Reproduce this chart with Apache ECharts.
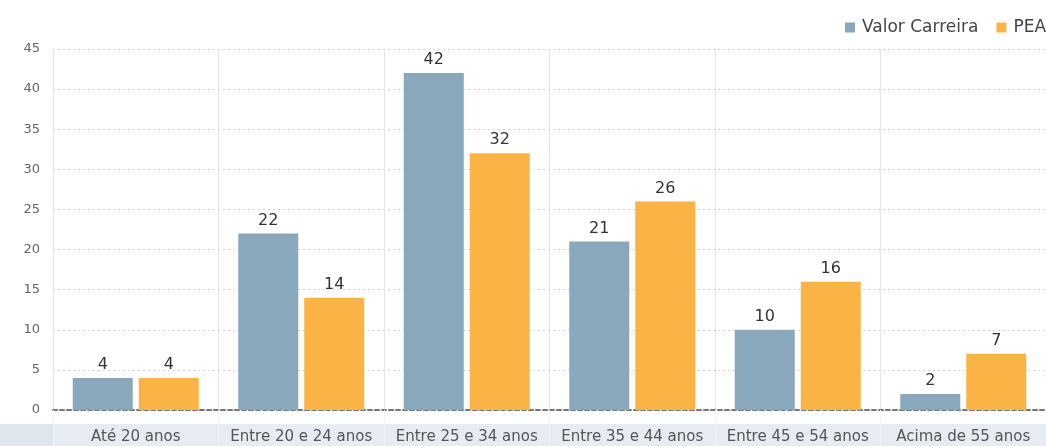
<!DOCTYPE html>
<html><head><meta charset="utf-8">
<script src="https://cdn.jsdelivr.net/npm/echarts@6/dist/echarts.min.js"></script>
<style>html,body{margin:0;padding:0;background:#fff}#c{width:1046px;height:446px}</style>
</head><body><div id="c"></div>
<script>
const categories = ['Até 20 anos','Entre 20 e 24 anos','Entre 25 e 34 anos','Entre 35 e 44 anos','Entre 45 e 54 anos','Acima de 55 anos'];
const seriesNames = ['Valor Carreira','PEA'];
const valorCarreira = [4,22,42,21,10,2];
const pea = [4,14,32,26,16,7];
const yTicks = {min:0,max:45,interval:5};

const chart = echarts.init(document.getElementById('c'));
const font = 'DejaVu Sans';
chart.setOption({
  animation:false,
  textStyle:{fontFamily:font},
  color:['#89a8bc','#f9b445'],
  legend:{
    left:840, top:14, width:400, itemWidth:10, itemHeight:10, itemGap:18, icon:'rect',
    textStyle:{fontFamily:font,fontSize:17,color:'#444',padding:[0,0,0,2]},
    data:seriesNames
  },
  graphic:[{type:'rect',z:-10,shape:{x:0,y:424,width:1046,height:30},style:{fill:'#e6ecf2'}},
           {type:'rect',z:-10,shape:{x:0,y:424,width:53,height:30},style:{fill:'#dfe6ee'}}],
  grid:{left:53,top:49,height:361,width:998,containLabel:false},
  xAxis:{
    type:'category',data:categories,
    axisLine:{show:true,lineStyle:{color:'#777',type:[4,3],width:2}},
    axisTick:{show:true,interval:0,length:37,lineStyle:{color:'#f2f5f8',width:1}},
    axisLabel:{color:'#555',fontSize:15,fontFamily:font,margin:20,interval:0},
    splitLine:{show:true,interval:0,lineStyle:{color:'#e4e4e4',width:1}}
  },
  yAxis:{
    type:'value',min:yTicks.min,max:yTicks.max,interval:yTicks.interval,
    axisLine:{show:true,lineStyle:{color:'#e4e4e4'}},
    axisTick:{show:false},
    axisLabel:{color:'#666',fontSize:13,fontFamily:font,margin:13},
    splitLine:{show:true,lineStyle:{color:'#d4d4d4',type:[2,3],width:1}}
  },
  series:[
    {name:seriesNames[0],type:'bar',data:valorCarreira,barWidth:60,barGap:'10%',
     label:{show:true,position:'top',distance:5,color:'#333',fontSize:16,fontFamily:font}},
    {name:seriesNames[1],type:'bar',data:pea,barWidth:60,
     label:{show:true,position:'top',distance:5,color:'#333',fontSize:16,fontFamily:font}}
  ]
});
</script></body></html>
